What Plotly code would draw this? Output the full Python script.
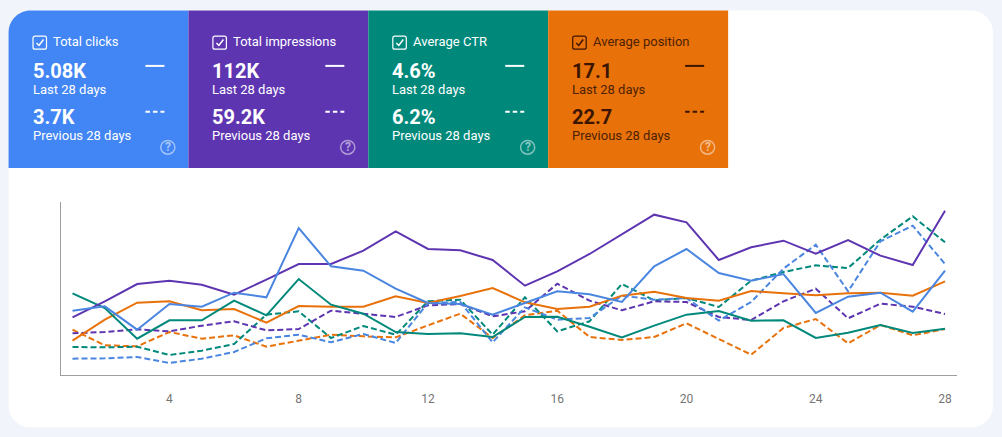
import plotly.graph_objects as go

days = list(range(1, 29))
card_titles = ["Total clicks", "Total impressions", "Average CTR", "Average position"]
current_values = ["5.08K", "112K", "4.6%", "17.1"]
previous_values = ["3.7K", "59.2K", "6.2%", "22.7"]
period_current = "Last 28 days"
period_previous = "Previous 28 days"
tick_days = [4, 8, 12, 16, 20, 24, 28]

clicks_now = [193,206,136,213,205,247,233,441,326,313,259,216,213,181,216,251,242,219,326,378,306,283,303,186,235,247,190,313]
impressions_now = [173,221,273,283,271,241,286,333,333,373,431,378,374,345,268,311,363,423,481,458,345,383,403,364,405,358,330,493]
ctr_now = [245,201,109,164,164,223,179,288,211,184,129,123,125,114,174,175,145,113,148,181,192,163,164,111,127,150,126,139]
position_now = [103,166,217,221,194,198,157,207,205,205,236,216,237,261,218,198,205,238,250,231,223,252,245,239,245,247,238,281]
clicks_prev = [49,50,54,36,49,69,110,121,98,123,96,216,219,98,203,166,171,238,226,231,163,219,319,391,251,401,448,333]
impressions_prev = [125,129,137,131,148,161,134,138,193,183,174,209,213,176,191,274,223,194,221,219,174,165,221,259,170,214,205,183]
ctr_prev = [84,83,85,60,73,93,181,191,111,147,121,221,226,121,233,131,161,273,224,231,204,283,309,329,321,406,476,398]
position_prev = [136,89,86,129,109,119,85,103,121,116,113,149,184,111,179,193,114,105,114,155,108,61,141,168,95,150,119,138]

BLUE, PURPLE, TEAL, ORANGE = "#4285f4", "#5e35b1", "#00897b", "#e8710a"
LINE_BLUE = "#4a86e0"
W, H = 1002, 437
L, R, T, B = 60.5, 957, 202, 375.5


def px(x):
    return (x - L) / (R - L)


def py(y):
    return (B - y) / (B - T)


def rounded(x0, y0, x1, y1, tl=0, tr=0, br=0, bl=0):
    k = 0.45
    X, Y = px, py
    return (
        f"M {X(x0+tl)} {Y(y0)} L {X(x1-tr)} {Y(y0)} "
        f"C {X(x1-tr*k)} {Y(y0)} {X(x1)} {Y(y0+tr*k)} {X(x1)} {Y(y0+tr)} "
        f"L {X(x1)} {Y(y1-br)} "
        f"C {X(x1)} {Y(y1-br*k)} {X(x1-br*k)} {Y(y1)} {X(x1-br)} {Y(y1)} "
        f"L {X(x0+bl)} {Y(y1)} "
        f"C {X(x0+bl*k)} {Y(y1)} {X(x0)} {Y(y1-bl*k)} {X(x0)} {Y(y1-bl)} "
        f"L {X(x0)} {Y(y0+tl)} "
        f"C {X(x0)} {Y(y0+tl*k)} {X(x0+tl*k)} {Y(y0)} {X(x0+tl)} {Y(y0)} Z"
    )


shapes, annotations = [], []


def path(d, fill="rgba(0,0,0,0)", line=None, width=0, layer="below"):
    shapes.append(dict(type="path", xref="paper", yref="paper", path=d, fillcolor=fill,
                       line=dict(color=line or "rgba(0,0,0,0)", width=width), layer=layer))


def text(x, y, s, size, color, weight=400, anchor="left"):
    annotations.append(dict(xref="paper", yref="paper", x=px(x), y=py(y), text=s, showarrow=False,
                            xanchor=anchor, yanchor="middle", borderpad=0, borderwidth=0,
                            font=dict(family="Roboto", size=size, color=color, weight=weight)))


path(rounded(8, 10, 993, 428, 22, 22, 22, 22), fill="#ffffff")

card_fill = [BLUE, PURPLE, TEAL, ORANGE]
card_ink = ["#ffffff", "#ffffff", "#ffffff", "#3c1500"]
card_sub = ["#ffffff", "#ffffff", "#ffffff", "#4d2203"]
for i, title in enumerate(card_titles):
    x0 = 8 + 180 * i
    ink, sub = card_ink[i], card_sub[i]
    path(rounded(x0, 10, x0 + 180, 168, tl=22 if i == 0 else 0), fill=card_fill[i])
    # checkbox
    path(rounded(x0 + 24.5, 35.7, x0 + 38, 48.7, 2, 2, 2, 2), line=ink, width=1.2)
    path(f"M {px(x0+28)} {py(42.5)} L {px(x0+30.5)} {py(45)} L {px(x0+35)} {py(39)}", line=ink, width=1.5)
    text(x0 + 44.3, 41.5, title, 13, sub, 400)
    text(x0 + 24, 70.5, current_values[i], 20, ink, 700)
    text(x0 + 24, 89.5, period_current, 13, sub, 400)
    text(x0 + 24, 116.5, previous_values[i], 20, ink, 700)
    text(x0 + 24, 135.5, period_previous, 13, sub, 400)
    # legend samples
    shapes.append(dict(type="line", xref="paper", yref="paper", x0=px(x0 + 137), x1=px(x0 + 156),
                       y0=py(65.5), y1=py(65.5), line=dict(color=ink, width=2), layer="above"))
    shapes.append(dict(type="line", xref="paper", yref="paper", x0=px(x0 + 137), x1=px(x0 + 156),
                       y0=py(111.5), y1=py(111.5), line=dict(color=ink, width=2, dash="4.5px,3px"), layer="above"))
    # help icon
    shapes.append(dict(type="circle", xref="paper", yref="paper", x0=px(x0 + 152.3), x1=px(x0 + 166.5),
                       y0=py(140.3), y1=py(154), line=dict(color="rgba(255,255,255,0.5)", width=1.5),
                       fillcolor="rgba(0,0,0,0)", layer="above"))
    text(x0 + 159.4, 147, "?", 12, "rgba(255,255,255,0.55)", 700, "center")

series = [
    (position_prev, ORANGE, "Previous 28 days position"),
    (ctr_prev, TEAL, "Previous 28 days CTR"),
    (impressions_prev, PURPLE, "Previous 28 days impressions"),
    (clicks_prev, LINE_BLUE, "Previous 28 days clicks"),
]
series_now = [
    (position_now, ORANGE, "Position"),
    (ctr_now, TEAL, "CTR"),
    (impressions_now, PURPLE, "Impressions"),
    (clicks_now, LINE_BLUE, "Clicks"),
]

fig = go.Figure()
for values, color, name in series:
    fig.add_trace(go.Scatter(x=days, y=values, mode="lines", name=name,
                             line=dict(color=color, width=2, dash="6px,3px")))
for values, color, name in series_now:
    fig.add_trace(go.Scatter(x=days, y=values, mode="lines", name=name,
                             line=dict(color=color, width=2)))

fig.update_layout(
    width=W, height=H, autosize=False, showlegend=False,
    margin=dict(l=L, r=W - R, t=T, b=H - B, pad=0),
    paper_bgcolor="#f1f4fb", plot_bgcolor="rgba(0,0,0,0)",
    shapes=shapes, annotations=annotations,
    font=dict(family="Roboto"),
    xaxis=dict(range=[0.644, 28.37], tickmode="array", tickvals=tick_days, ticktext=[str(d) for d in tick_days],
               showgrid=False, zeroline=False, showline=True, linecolor="#9e9e9e", linewidth=1,
               ticks="outside", ticklen=13, tickcolor="rgba(0,0,0,0)",
               tickfont=dict(family="Roboto", size=12, color="#757575")),
    yaxis=dict(range=[0, 519], showticklabels=False, showgrid=False, zeroline=False,
               showline=True, linecolor="#9e9e9e", linewidth=1, ticks=""),
)

fig.write_html("out.html", config=dict(displayModeBar=False),
               post_script="document.body.style.margin='0';document.body.style.overflow='hidden';")
